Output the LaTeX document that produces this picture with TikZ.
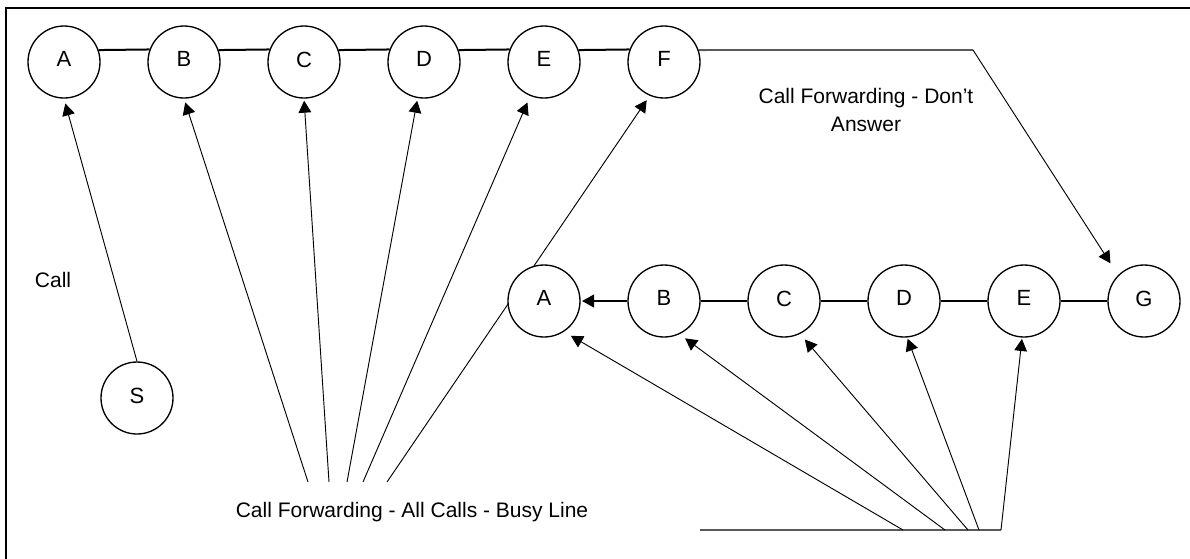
\documentclass[tikz,border=0pt]{standalone}
\usepackage{fontspec}
\setmainfont{Liberation Sans}
\usetikzlibrary{arrows.meta,backgrounds}
\begin{document}
\begin{tikzpicture}[x=0.75pt,y=-0.75pt,
  circ/.style={circle,draw,line width=1pt,fill=white,minimum size=54pt,inner sep=0pt,
    font=\fontsize{16.5}{19}\selectfont,text depth=4pt},
  link/.style={line width=1.5pt},
  grayline/.style={line width=1.4pt,draw=black!65},
  arr/.style={line width=0.7pt,-{Triangle[length=9pt,width=9.5pt]}},
  lbl/.style={font=\fontsize{15.75}{20.6}\selectfont,inner sep=0pt,align=center}]
\useasboundingbox (0,0) rectangle (1190,558);
\draw[line width=1.8pt,line join=miter] (6,562) -- (6,8) -- (1194,8);

% top row
\node[circ] (tA) at (64,62) {A};
\node[circ] (tB) at (184,62) {B};
\node[circ] (tC) at (304,62) {C};
\node[circ] (tD) at (424,62) {D};
\node[circ] (tE) at (544,62) {E};
\node[circ] (tF) at (664,62) {F};
% bottom row
\node[circ] (bA) at (544,301) {A};
\node[circ] (bB) at (664,301) {B};
\node[circ] (bC) at (784,301) {C};
\node[circ] (bD) at (904,301) {D};
\node[circ] (bE) at (1024,301) {E};
\node[circ] (bG) at (1144,301) {G};
\node[circ] (S) at (137,398) {S};

% labels
\node[lbl] (call) at (53,280) {Call};
\node[lbl] (cfall) at (412,512) {Call Forwarding - All Calls - Busy Line};
\node[lbl] (cfdon) at (866,110) {Call Forwarding - Don’t\\Answer};

% free ends
\coordinate (c1) at (308,482);
\coordinate (c2) at (329,482);
\coordinate (c3) at (347,482);
\coordinate (c4) at (363,482);
\coordinate (c5) at (387,482);
\coordinate (h1) at (700,530);
\coordinate (h2) at (903,530);
\coordinate (h3) at (945,530);
\coordinate (h4) at (968,530);
\coordinate (h5) at (979,530);
\coordinate (h6) at (1001,530);
\coordinate (fg) at (973,50);

\begin{scope}[on background layer]
  % top row links
  \draw[link] (tA.19.5) -- (tB.160.5);
  \draw[link] (tB.19.5) -- (tC.160.5);
  \draw[link] (tC.19.5) -- (tD.160.5);
  \draw[link] (tD.19.5) -- (tE.160.5);
  \draw[link] (tE.19.5) -- (tF.160.5);
  % bottom row links
  \draw[link,-{Triangle[length=9pt,width=9.5pt]},shorten >=1pt] (bB.west) -- (bA.east);
  \draw[link] (bB.east) -- (bC.west);
  \draw[link] (bC.east) -- (bD.west);
  \draw[link] (bD.east) -- (bE.west);
  \draw[link] (bE.east) -- (bG.west);
  % F to G
  \draw[grayline] (tF.19.5) -- (fg);
  \draw[arr,shorten >=10.5pt] (fg) -- (bG.135);
  % call
  \draw[arr,shorten >=3.75pt] (S.north) -- (tA.south);
  % call forwarding - all calls - busy line
  \draw[arr,shorten >=3pt] (c1) -- (tB.south);
  \draw[arr,shorten >=1.5pt] (c2) -- (tC.south);
  \draw[arr,shorten >=2pt] (c3) -- (tD.260);
  \draw[arr,shorten >=5.3pt] (c4) -- (tE.248);
  \draw[arr,shorten >=4pt] (c5) -- (tF.247);
  % bottom fan
  \draw[grayline] (h1) -- (h6);
  \draw[arr,shorten >=6pt] (h2) -- (bA.303);
  \draw[arr,shorten >=5.2pt] (h3) -- (bB.295);
  \draw[arr,shorten >=5.5pt] (h4) -- (bC.296);
  \draw[arr,shorten >=1pt] (h5) -- (bD.275);
  \draw[arr,shorten >=1pt] (h6) -- (bE.267);
\end{scope}
\end{tikzpicture}
\end{document}
